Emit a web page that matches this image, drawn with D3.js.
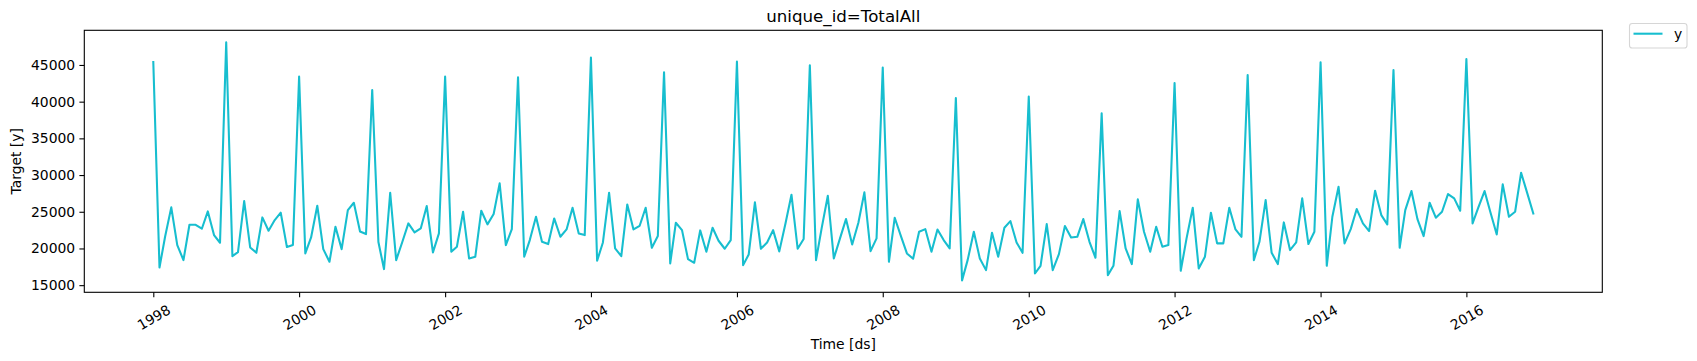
<!DOCTYPE html>
<html>
<head>
<meta charset="utf-8">
<script src="https://cdn.jsdelivr.net/npm/d3@7"></script>
<style>
  html, body { margin: 0; padding: 0; background: #fff; }
  svg text { font-family: "DejaVu Sans", sans-serif; fill: #000; }
</style>
</head>
<body>
<svg id="chart" width="1697" height="361"></svg>
<script>
// ---- data ----
const title = "unique_id=TotalAll";
const xLabel = "Time [ds]";
const yLabel = "Target [y]";
const seriesName = "y";
const startMonth = "1998-01-01";
const yTicks = [15000, 20000, 25000, 30000, 35000, 40000, 45000];
const xTickYears = [1998, 2000, 2002, 2004, 2006, 2008, 2010, 2012, 2014, 2016];
const values = [
  45400, 17400, 21600, 25600, 20460, 18410, 23230, 23230, 22690, 25050, 21820, 20780, // 1998
  48100, 18960, 19500, 26460, 20140, 19410, 24230, 22410, 23870, 24870, 20190, 20460, // 1999
  43410, 19320, 21500, 25820, 19910, 18190, 22960, 19910, 25230, 26230, 22320, 21960, // 2000
  41590, 20870, 17190, 27590, 18410, 20910, 23410, 22190, 22730, 25780, 19460, 22050, // 2001
  43410, 19550, 20230, 25000, 18640, 18870, 25140, 23280, 24690, 28870, 20460, 22640, // 2002
  43320, 18870, 21140, 24320, 20910, 20600, 24090, 21590, 22590, 25550, 22050, 21820, // 2003
  46000, 18320, 20820, 27590, 20000, 18960, 26000, 22590, 23090, 25550, 20100, 21690, // 2004
  44000, 17960, 23500, 22500, 18550, 18050, 22460, 19550, 22820, 21050, 19960, 21140, // 2005
  45450, 17730, 19190, 26280, 19960, 20820, 22500, 19600, 23410, 27320, 19960, 21280, // 2006
  44950, 18410, 22730, 27180, 18640, 21370, 24000, 20550, 23500, 27640, 19640, 21370, // 2007
  44650, 18190, 24190, 21690, 19320, 18600, 22280, 22640, 19550, 22590, 21140, 20000, // 2008
  40500, 15650, 18410, 22280, 18640, 17050, 22140, 18870, 22820, 23730, 20820, 19410, // 2009
  40700, 16590, 17640, 23320, 17050, 19230, 23050, 21500, 21590, 24000, 20910, 18730, // 2010
  38400, 16370, 17640, 25090, 20000, 17870, 26690, 22280, 19550, 22960, 20230, 20460, // 2011
  42550, 16960, 21370, 25550, 17280, 18870, 24870, 20690, 20690, 25550, 22590, 21590, // 2012
  43620, 18410, 20910, 26590, 19410, 17870, 23550, 19780, 20820, 26820, 20600, 22280, // 2013
  45350, 17640, 24320, 28400, 20690, 22640, 25370, 23410, 22370, 27870, 24550, 23280, // 2014
  44300, 20100, 25230, 27820, 24000, 21690, 26230, 24190, 25000, 27410, 26820, 25140, // 2015
  45800, 23410, 25590, 27820, 24870, 21910, 28730, 24320, 25000, 30320, 27500, 24770  // 2016
];

// ---- layout ----
const W = 1697, H = 361;
const plot = { left: 84.3, top: 30.3, right: 1602.3, bottom: 292.3 };
const color = "#17becf";
const fontSize = 13.9;
const titleSize = 16.67;

const start = new Date(startMonth + "T00:00:00Z");
const dates = values.map((_, i) => d3.utcMonth.offset(start, i));
const data = dates.map((d, i) => ({ date: d, value: values[i] }));

const svg = d3.select("#chart");

const t0 = +dates[0], t1 = +dates[dates.length - 1];
const tPad = (t1 - t0) * 0.05;
const x = d3.scaleUtc()
  .domain([new Date(t0 - tPad), new Date(t1 + tPad)])
  .range([plot.left, plot.right]);

const [vMin, vMax] = d3.extent(values);
const vPad = (vMax - vMin) * 0.05;
const y = d3.scaleLinear()
  .domain([vMin - vPad, vMax + vPad])
  .range([plot.bottom, plot.top]);

// line
const line = d3.line().x(d => x(d.date)).y(d => y(d.value));
svg.append("path")
  .datum(data)
  .attr("d", line)
  .attr("fill", "none")
  .attr("stroke", color)
  .attr("stroke-width", 2.08)
  .attr("stroke-linejoin", "round")
  .attr("stroke-linecap", "square");

// frame
svg.append("rect")
  .attr("x", plot.left).attr("y", plot.top)
  .attr("width", plot.right - plot.left).attr("height", plot.bottom - plot.top)
  .attr("fill", "none").attr("stroke", "#000").attr("stroke-width", 1.1);

// y axis
const yAxis = d3.axisLeft(y).tickValues(yTicks).tickSize(4.9).tickPadding(4.2)
  .tickFormat(d3.format("d"));
const gy = svg.append("g").attr("transform", `translate(${plot.left},0)`).call(yAxis);
gy.select(".domain").remove();
gy.selectAll(".tick line").attr("stroke", "#000").attr("stroke-width", 1.1);
gy.selectAll(".tick text").attr("font-size", fontSize).attr("font-family", "DejaVu Sans").attr("fill", "#000");

// x axis
const xTickDates = xTickYears.map(yr => new Date(Date.UTC(yr, 0, 1)));
const xAxis = d3.axisBottom(x).tickValues(xTickDates).tickSize(4.9)
  .tickFormat(d3.utcFormat("%Y"));
const gx = svg.append("g").attr("transform", `translate(0,${plot.bottom})`).call(xAxis);
gx.select(".domain").remove();
gx.selectAll(".tick line").attr("stroke", "#000").attr("stroke-width", 1.1);
gx.selectAll(".tick text")
  .attr("font-size", fontSize).attr("font-family", "DejaVu Sans").attr("fill", "#000")
  .attr("y", null).attr("dy", null)
  .attr("text-anchor", "middle")
  .attr("dominant-baseline", "central")
  .attr("transform", "translate(0,25) rotate(-30)");

// title
svg.append("text")
  .attr("x", (plot.left + plot.right) / 2).attr("y", 21.7)
  .attr("text-anchor", "middle").attr("font-size", titleSize)
  .text(title);

// axis labels
svg.append("text")
  .attr("x", (plot.left + plot.right) / 2).attr("y", 349)
  .attr("text-anchor", "middle").attr("font-size", fontSize)
  .text(xLabel);
svg.append("text")
  .attr("transform", `translate(21,${(plot.top + plot.bottom) / 2}) rotate(-90)`)
  .attr("text-anchor", "middle").attr("font-size", fontSize)
  .text(yLabel);

// legend
const lg = svg.append("g");
lg.append("rect")
  .attr("x", 1629.5).attr("y", 23.5).attr("width", 57.5).attr("height", 24.5)
  .attr("rx", 2.8).attr("fill", "#fff").attr("fill-opacity", 0.8)
  .attr("stroke", "#d6d6d6").attr("stroke-width", 1.1);
lg.append("line")
  .attr("x1", 1633.5).attr("x2", 1662.5).attr("y1", 33.7).attr("y2", 33.7)
  .attr("stroke", color).attr("stroke-width", 2.08);
lg.append("text")
  .attr("x", 1674).attr("y", 38.5).attr("font-size", fontSize)
  .text(seriesName);
</script>
</body>
</html>
